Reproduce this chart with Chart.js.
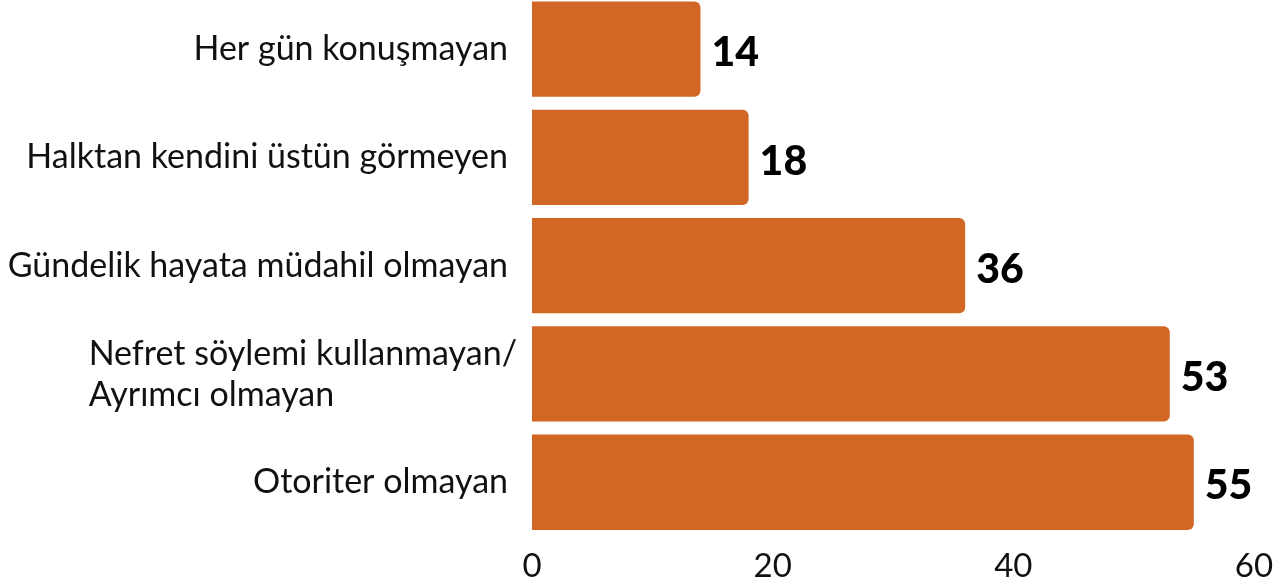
<!DOCTYPE html>
<html>
<head>
<meta charset="utf-8">
<script src="https://cdn.jsdelivr.net/npm/chart.js@4"></script>
<style>
  html, body { margin: 0; padding: 0; background: #fff; overflow: hidden; }
  #wrap { position: absolute; left: 0; top: -5px; width: 1287px; height: 601px; }
</style>
</head>
<body>
<div id="wrap"><canvas id="barChart"></canvas></div>
<script>
const categories = [
  'Her gün konuşmayan',
  'Halktan kendini üstün görmeyen',
  'Gündelik hayata müdahil olmayan',
  ['Nefret söylemi kullanmayan/', 'Ayrımcı olmayan'],
  'Otoriter olmayan'
];
const values = [14, 18, 36, 53, 55];
const xTicks = [0, 20, 40, 60];

const barColor = '#D26624';
const labelFont = '34px Lato, "Open Sans", sans-serif';
const valueFont = '900 41px Lato, "Open Sans", sans-serif';

// category labels: single lines right aligned, wrapped lines left aligned as a block
const categoryLabels = {
  id: 'categoryLabels',
  afterDraw(chart) {
    const ctx = chart.ctx;
    const yScale = chart.scales.y;
    const right = yScale.right - 24;
    ctx.save();
    ctx.font = labelFont;
    ctx.fillStyle = '#111';
    ctx.textBaseline = 'middle';
    categories.forEach((label, i) => {
      const y = yScale.getPixelForValue(i);
      if (Array.isArray(label)) {
        const w = Math.max(...label.map(l => ctx.measureText(l).width));
        ctx.textAlign = 'left';
        label.forEach((line, j) => {
          ctx.fillText(line, right - w + 9, y + 1 + (j - (label.length - 1) / 2) * 41);
        });
      } else {
        ctx.textAlign = 'right';
        ctx.fillText(label, right, y);
      }
    });
    ctx.restore();
  }
};

const valueLabels = {
  id: 'valueLabels',
  afterDatasetsDraw(chart) {
    const ctx = chart.ctx;
    const meta = chart.getDatasetMeta(0);
    ctx.save();
    ctx.font = valueFont;
    ctx.fillStyle = '#000';
    ctx.textAlign = 'left';
    ctx.textBaseline = 'middle';
    meta.data.forEach((bar, i) => {
      ctx.fillText(values[i], bar.x + 11, bar.y + 4);
    });
    ctx.restore();
  }
};

new Chart(document.getElementById('barChart'), {
  type: 'bar',
  data: {
    labels: categories,
    datasets: [{
      data: values,
      backgroundColor: barColor,
      borderRadius: 6,
      borderSkipped: 'start',
      categoryPercentage: 1,
      barPercentage: 0.88
    }]
  },
  options: {
    indexAxis: 'y',
    responsive: true,
    maintainAspectRatio: false,
    animation: false,
    layout: { padding: { right: 33, top: 0, bottom: 0, left: 0 } },
    plugins: {
      legend: { display: false },
      tooltip: { enabled: false }
    },
    scales: {
      x: {
        min: 0,
        max: 60,
        afterBuildTicks(scale) {
          scale.ticks = xTicks.map(v => ({ value: v }));
        },
        grid: { display: false, drawTicks: false },
        border: { display: false },
        ticks: {
          padding: 10,
          color: '#111',
          font: { family: 'Lato, "Open Sans", sans-serif', size: 33 },
          maxRotation: 0
        }
      },
      y: {
        grid: { display: false, drawTicks: false },
        border: { display: false },
        ticks: { display: false },
        afterFit(scale) {
          scale.width = 532;
        }
      }
    }
  },
  plugins: [categoryLabels, valueLabels]
});
</script>
</body>
</html>
